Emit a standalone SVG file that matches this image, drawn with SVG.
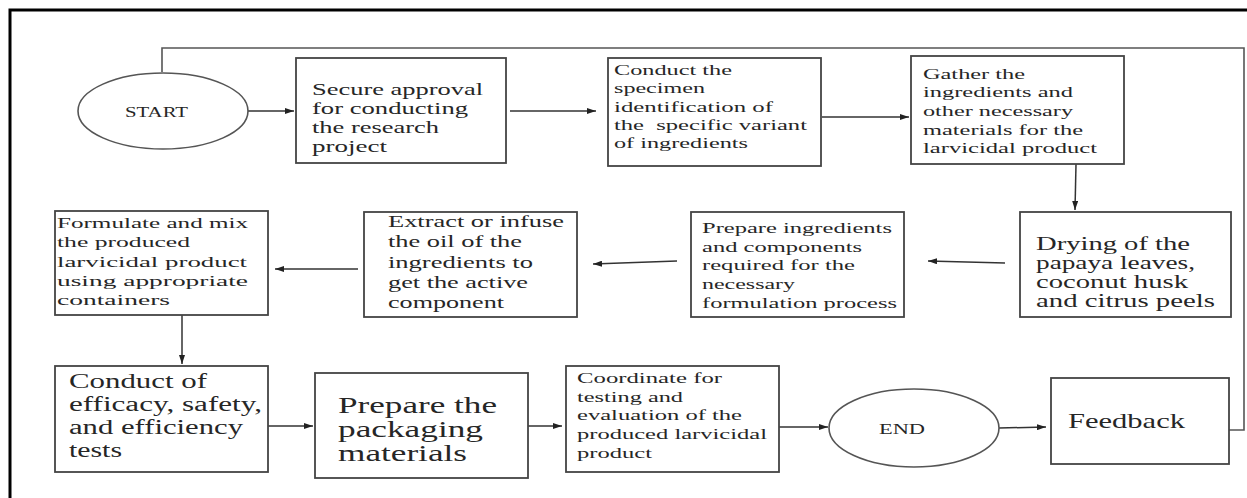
<svg xmlns="http://www.w3.org/2000/svg" width="1247" height="498" viewBox="0 0 1247 498">
<style>
.box{fill:#fff;stroke:#444;stroke-width:1.8}
.ell{fill:#fff;stroke:#555;stroke-width:1.6}
.t{font-family:"Liberation Serif","Times New Roman",serif;fill:#262626}
.c{fill:none;stroke:#333;stroke-width:1.5}
.loop{fill:none;stroke:#555;stroke-width:1.6}
</style>
<defs>
<marker id="ah" markerUnits="userSpaceOnUse" markerWidth="9" markerHeight="6" refX="9" refY="3" orient="auto">
<path d="M0,0 L9,3 L0,6 z" fill="#222"/>
</marker>
</defs>
<rect width="1247" height="498" fill="#fff"/>
<path d="M10,498 L10,10 L1247,10" fill="none" stroke="#000" stroke-width="3"/>

<g id="connectors">
<line class="c" x1="248" y1="111" x2="294" y2="111" marker-end="url(#ah)"/>
<line class="c" x1="510" y1="111" x2="596" y2="111" marker-end="url(#ah)"/>
<line class="c" x1="822" y1="117" x2="909" y2="117" marker-end="url(#ah)"/>
<line class="c" x1="1076" y1="164" x2="1075" y2="210" marker-end="url(#ah)"/>
<line class="c" x1="1005" y1="263" x2="928" y2="261" marker-end="url(#ah)"/>
<line class="c" x1="677" y1="261" x2="593" y2="264" marker-end="url(#ah)"/>
<line class="c" x1="358" y1="269" x2="275" y2="269" marker-end="url(#ah)"/>
<line class="c" x1="182" y1="315" x2="182" y2="364" marker-end="url(#ah)"/>
<line class="c" x1="263" y1="426" x2="313" y2="426" marker-end="url(#ah)"/>
<line class="c" x1="528" y1="426" x2="562" y2="426" marker-end="url(#ah)"/>
<line class="c" x1="775" y1="427" x2="828" y2="427" marker-end="url(#ah)"/>
<line class="c" x1="999" y1="428" x2="1046" y2="427" marker-end="url(#ah)"/>
<polyline class="loop" points="1229,430 1244,430 1244,48 162,48 162,72"/>
</g>

<g id="start">
<ellipse class="ell" cx="163" cy="111" rx="85" ry="38"/>
<text class="t" x="125" y="117" font-size="14" textLength="63" lengthAdjust="spacingAndGlyphs">START</text>
</g>

<g id="secure-approval">
<rect class="box" x="296" y="58" width="210" height="105"/>
<g class="t" font-size="17">
<text x="312" y="95" textLength="171" lengthAdjust="spacingAndGlyphs">Secure approval</text>
<text x="312" y="114" textLength="156" lengthAdjust="spacingAndGlyphs">for conducting</text>
<text x="312" y="133" textLength="127" lengthAdjust="spacingAndGlyphs">the research</text>
<text x="312" y="152" textLength="75" lengthAdjust="spacingAndGlyphs">project</text>
</g>
</g>

<g id="specimen-identification">
<rect class="box" x="608" y="58" width="213" height="108"/>
<g class="t" font-size="15">
<text x="614" y="75" textLength="118" lengthAdjust="spacingAndGlyphs">Conduct the</text>
<text x="614" y="93" textLength="91" lengthAdjust="spacingAndGlyphs">specimen</text>
<text x="614" y="112" textLength="159" lengthAdjust="spacingAndGlyphs">identification of</text>
<text x="614" y="130" textLength="193" lengthAdjust="spacingAndGlyphs" xml:space="preserve">the  specific variant</text>
<text x="614" y="148" textLength="134" lengthAdjust="spacingAndGlyphs">of ingredients</text>
</g>
</g>

<g id="gather-ingredients">
<rect class="box" x="911" y="56" width="213" height="108"/>
<g class="t" font-size="15.5">
<text x="923" y="79" textLength="102" lengthAdjust="spacingAndGlyphs">Gather the</text>
<text x="923" y="97" textLength="150" lengthAdjust="spacingAndGlyphs">ingredients and</text>
<text x="923" y="116" textLength="150" lengthAdjust="spacingAndGlyphs">other necessary</text>
<text x="923" y="135" textLength="160" lengthAdjust="spacingAndGlyphs">materials for the</text>
<text x="923" y="153" textLength="174" lengthAdjust="spacingAndGlyphs">larvicidal product</text>
</g>
</g>

<g id="drying">
<rect class="box" x="1020" y="212" width="211" height="105"/>
<g class="t" font-size="18">
<text x="1036" y="250" textLength="154" lengthAdjust="spacingAndGlyphs">Drying of the</text>
<text x="1036" y="269" textLength="159" lengthAdjust="spacingAndGlyphs">papaya leaves,</text>
<text x="1036" y="288" textLength="152" lengthAdjust="spacingAndGlyphs">coconut husk</text>
<text x="1036" y="307" textLength="179" lengthAdjust="spacingAndGlyphs">and citrus peels</text>
</g>
</g>

<g id="prepare-ingredients">
<rect class="box" x="691" y="212" width="213" height="105"/>
<g class="t" font-size="15">
<text x="702" y="233" textLength="190" lengthAdjust="spacingAndGlyphs">Prepare ingredients</text>
<text x="702" y="252" textLength="160" lengthAdjust="spacingAndGlyphs">and components</text>
<text x="702" y="270" textLength="153" lengthAdjust="spacingAndGlyphs">required for the</text>
<text x="702" y="289" textLength="93" lengthAdjust="spacingAndGlyphs">necessary</text>
<text x="702" y="308" textLength="195" lengthAdjust="spacingAndGlyphs">formulation process</text>
</g>
</g>

<g id="extract-oil">
<rect class="box" x="364" y="212" width="213" height="105"/>
<g class="t" font-size="16">
<text x="388" y="227" textLength="176" lengthAdjust="spacingAndGlyphs">Extract or infuse</text>
<text x="388" y="247" textLength="134" lengthAdjust="spacingAndGlyphs">the oil of the</text>
<text x="388" y="268" textLength="145" lengthAdjust="spacingAndGlyphs">ingredients to</text>
<text x="388" y="288" textLength="140" lengthAdjust="spacingAndGlyphs">get the active</text>
<text x="388" y="308" textLength="116" lengthAdjust="spacingAndGlyphs">component</text>
</g>
</g>

<g id="formulate-mix">
<rect class="box" x="55" y="211" width="213" height="104"/>
<g class="t" font-size="14.5">
<text x="57" y="228" textLength="191" lengthAdjust="spacingAndGlyphs">Formulate and mix</text>
<text x="57" y="247" textLength="133" lengthAdjust="spacingAndGlyphs">the produced</text>
<text x="57" y="267" textLength="190" lengthAdjust="spacingAndGlyphs">larvicidal product</text>
<text x="57" y="286" textLength="191" lengthAdjust="spacingAndGlyphs">using appropriate</text>
<text x="57" y="305" textLength="113" lengthAdjust="spacingAndGlyphs">containers</text>
</g>
</g>

<g id="efficacy-tests">
<rect class="box" x="55" y="366" width="213" height="106"/>
<g class="t" font-size="20">
<text x="69" y="388" textLength="138" lengthAdjust="spacingAndGlyphs">Conduct of</text>
<text x="69" y="411" textLength="193" lengthAdjust="spacingAndGlyphs">efficacy, safety,</text>
<text x="69" y="434" textLength="174" lengthAdjust="spacingAndGlyphs">and efficiency</text>
<text x="69" y="457" textLength="53" lengthAdjust="spacingAndGlyphs">tests</text>
</g>
</g>

<g id="packaging-materials">
<rect class="box" x="315" y="373" width="213" height="105"/>
<g class="t" font-size="23">
<text x="338" y="413" textLength="159" lengthAdjust="spacingAndGlyphs">Prepare the</text>
<text x="338" y="437" textLength="145" lengthAdjust="spacingAndGlyphs">packaging</text>
<text x="338" y="461" textLength="129" lengthAdjust="spacingAndGlyphs">materials</text>
</g>
</g>

<g id="coordinate-testing">
<rect class="box" x="566" y="366" width="213" height="106"/>
<g class="t" font-size="15">
<text x="577" y="383" textLength="145" lengthAdjust="spacingAndGlyphs">Coordinate for</text>
<text x="577" y="402" textLength="106" lengthAdjust="spacingAndGlyphs">testing and</text>
<text x="577" y="420" textLength="165" lengthAdjust="spacingAndGlyphs">evaluation of the</text>
<text x="577" y="439" textLength="190" lengthAdjust="spacingAndGlyphs">produced larvicidal</text>
<text x="577" y="458" textLength="75" lengthAdjust="spacingAndGlyphs">product</text>
</g>
</g>

<g id="end">
<ellipse class="ell" cx="914" cy="428" rx="85" ry="39"/>
<text class="t" x="879" y="434" font-size="15" textLength="46" lengthAdjust="spacingAndGlyphs">END</text>
</g>

<g id="feedback">
<rect class="box" x="1051" y="378" width="178" height="86"/>
<text class="t" x="1068" y="428" font-size="22" textLength="117" lengthAdjust="spacingAndGlyphs">Feedback</text>
</g>
</svg>
